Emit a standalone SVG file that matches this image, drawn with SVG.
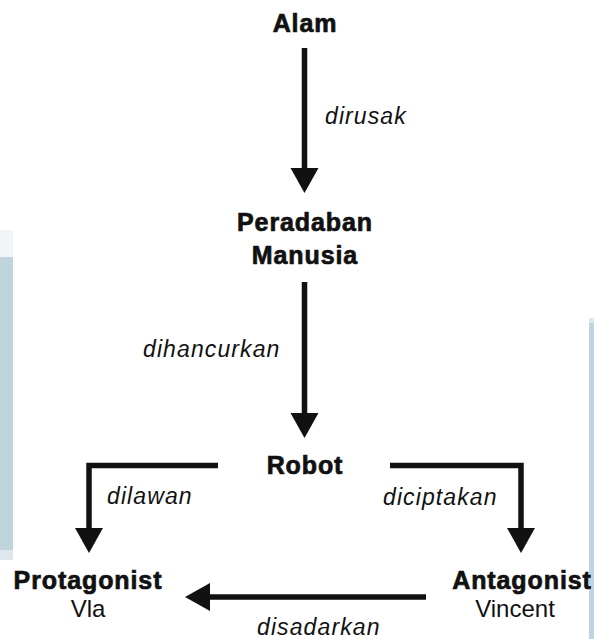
<svg xmlns="http://www.w3.org/2000/svg" width="594" height="639" viewBox="0 0 594 639">
<defs>
<style>
.node{font-family:"Liberation Sans",Arial,sans-serif;font-weight:bold;font-size:25px;letter-spacing:0.9px;fill:#111;stroke:#111;stroke-width:0.7px;text-anchor:middle}
.sub{font-family:"Liberation Sans",Arial,sans-serif;font-size:24px;fill:#111;text-anchor:middle}
.lbl{font-family:"Liberation Sans",Arial,sans-serif;font-style:italic;font-size:23px;letter-spacing:1.1px;fill:#111}
.ln{fill:none;stroke:#111;stroke-width:5.5}
.ah{fill:#111}
</style>
</defs>
<rect width="594" height="639" fill="#fff"/>
<g id="background">
<rect x="0" y="230" width="13" height="27" fill="#f0f5f7"/>
<rect x="0" y="257" width="13" height="293" fill="#bfd4dd"/>
<rect x="0" y="550" width="13" height="10" fill="#dce8ee"/>
<rect x="589" y="318" width="5" height="5" fill="#dce8ee"/>
<rect x="589" y="323" width="5" height="316" fill="#bfd4dd"/>
</g>
<g id="connectors">
<g id="e-alam-peradaban">
<line class="ln" x1="304.5" y1="48" x2="304.5" y2="170"/>
<polygon class="ah" points="290.5,168 318.5,168 304.5,193"/>
</g>
<g id="e-peradaban-robot">
<line class="ln" x1="304.5" y1="282" x2="304.5" y2="415"/>
<polygon class="ah" points="290.5,413 318.5,413 304.5,438"/>
</g>
<g id="e-robot-protagonist">
<polyline class="ln" points="218,465.5 89,465.5 89,530"/>
<polygon class="ah" points="75,528 103,528 89,553"/>
</g>
<g id="e-robot-antagonist">
<polyline class="ln" points="390,465.5 521,465.5 521,530"/>
<polygon class="ah" points="507,528 535,528 521,553"/>
</g>
<g id="e-antagonist-protagonist">
<line class="ln" x1="426" y1="597" x2="208" y2="597"/>
<polygon class="ah" points="210,583 210,611 185,597"/>
</g>
<text class="lbl" x="325" y="124">dirusak</text>
<text class="lbl" x="143" y="357">dihancurkan</text>
<text class="lbl" x="107" y="504">dilawan</text>
<text class="lbl" x="383" y="505">diciptakan</text>
<text class="lbl" x="257" y="635">disadarkan</text>
</g>
<g id="n-alam"><text class="node" x="305" y="32">Alam</text></g>
<g id="n-peradaban"><text class="node" x="305" y="231">Peradaban</text><text class="node" x="305" y="264">Manusia</text></g>
<g id="n-robot"><text class="node" x="305" y="474">Robot</text></g>
<g id="n-protagonist"><text class="node" x="88" y="589">Protagonist</text><text class="sub" x="88" y="617">Vla</text></g>
<g id="n-antagonist"><text class="node" x="522" y="589">Antagonist</text><text class="sub" x="515" y="617">Vincent</text></g>
</svg>
